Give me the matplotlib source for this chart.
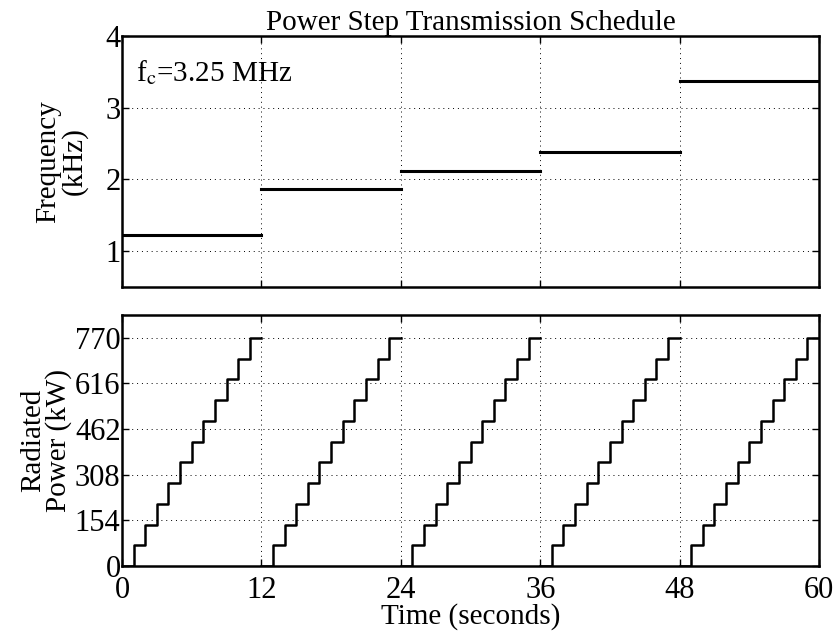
import numpy as np
import matplotlib.pyplot as plt

plt.rcParams['font.family'] = ['Liberation Serif', 'DejaVu Serif']
plt.rcParams['mathtext.fontset'] = 'stix'

# one 12 s block per carrier frequency
block_start = [0, 12, 24, 36, 48]
block_len = 12
freq_khz = [1.22, 1.87, 2.12, 2.38, 3.37]

# power staircase inside one block (one level per second)
step_offsets = [0, 1, 2, 3, 4, 5, 6, 7, 8, 9, 10, 11, 12]
power_kw = [0, 70, 140, 210, 280, 350, 420, 490, 560, 630, 700, 770, 770]

xticks = [0, 12, 24, 36, 48, 60]
power_ticks = [0, 154, 308, 462, 616, 770]
freq_ticks = [1, 2, 3, 4]

fig = plt.figure(figsize=(8.33, 6.33), dpi=100)
ax1 = fig.add_axes([122/833, 1 - 287/633, 697/833, 251/633])
ax2 = fig.add_axes([122/833, 1 - 566/633, 697/833, 251/633])

for t0, f in zip(block_start, freq_khz):
    ax1.plot([t0, t0 + block_len], [f, f], color='black', lw=2.2)

for t0 in block_start:
    t = np.array(step_offsets) + t0
    ax2.plot(t, power_kw, color='black', lw=1.8, drawstyle='steps-post')

fs = 21
tfs = 22
for ax in (ax1, ax2):
    ax.set_xlim(0, 60)
    ax.set_xticks(xticks)
    ax.grid(True, color='black', linestyle=(0, (1, 4)), linewidth=0.7)
    ax.tick_params(direction='in', top=True, right=True, length=5, width=1, labelsize=tfs, pad=1)
    ax.tick_params(axis='x', pad=7)
    for s in ax.spines.values():
        s.set_linewidth(1.8)

ax1.set_ylim(0.5, 4)
ax1.set_yticks(freq_ticks)
ax1.set_xticklabels([])
ax1.set_ylabel('Frequency\n(kHz)', fontsize=fs, linespacing=0.95, labelpad=13)
ax1.set_title('Power Step Transmission Schedule', fontsize=fs, pad=2)
ax1.text(0.02, 0.82, r'f$_\mathrm{c}$=3.25 MHz', transform=ax1.transAxes, fontsize=fs)

ax2.set_ylim(0, 847)
ax2.set_yticks(power_ticks)
ax2.set_ylabel('Radiated\nPower (kW)', fontsize=fs, linespacing=0.95, labelpad=2)
ax2.set_xlabel('Time (seconds)', fontsize=fs, labelpad=-1)

fig.savefig('out.png', dpi=100)
